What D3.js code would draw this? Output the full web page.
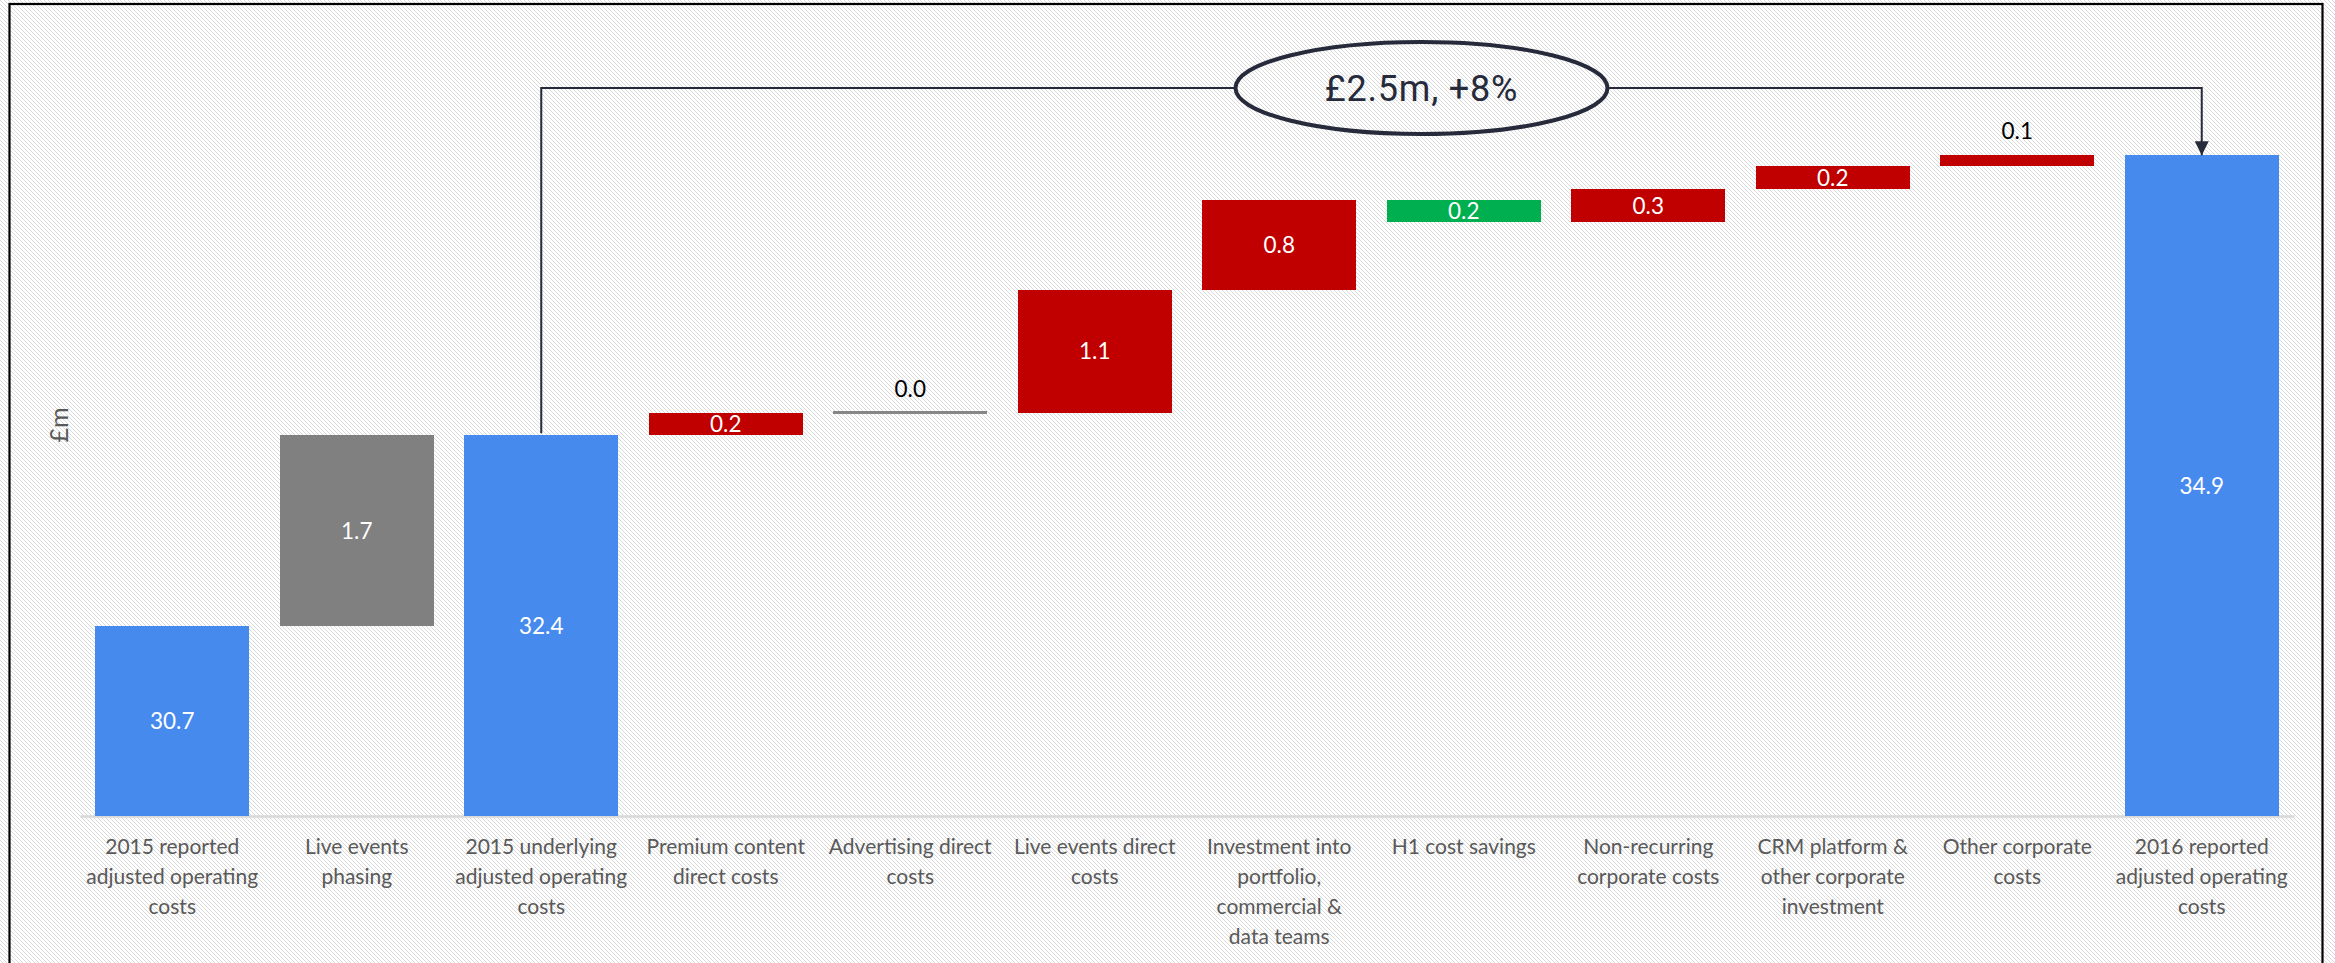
<!DOCTYPE html>
<html>
<head>
<meta charset="utf-8">
<script src="https://cdn.jsdelivr.net/npm/d3@7"></script>
<style>
  html, body { margin: 0; padding: 0; background: #fff; }
  svg { display: block; }
</style>
</head>
<body>
<svg id="chart" width="2335" height="963"></svg>
<script>
// Operating cost bridge, 2015 to 2016 (£m)
const categories = [
  "2015 reported\nadjusted operating\ncosts",
  "Live events\nphasing",
  "2015 underlying\nadjusted operating\ncosts",
  "Premium content\ndirect costs",
  "Advertising direct\ncosts",
  "Live events direct\ncosts",
  "Investment into\nportfolio,\ncommercial &\ndata teams",
  "H1 cost savings",
  "Non-recurring\ncorporate costs",
  "CRM platform &\nother corporate\ninvestment",
  "Other corporate\ncosts",
  "2016 reported\nadjusted operating\ncosts"
];
// totals are absolute levels, the rest are movements
const values = [30.7, 1.7, 32.4, 0.2, 0.0, 1.1, 0.8, -0.2, 0.3, 0.2, 0.1, 34.9];
const barTypes = ["total", "phasing", "total", "step", "step", "step", "step", "step", "step", "step", "step", "total"];
const axisMin = 29;
const axisMax = 35;
const bridgeLabel = "£2.5m, +8%";

const W = 2335, H = 963;
const svg = d3.select("#chart");

// hatched page background
const defs = svg.append("defs");
const pat = defs.append("pattern")
  .attr("id", "hatch").attr("patternUnits", "userSpaceOnUse")
  .attr("width", 4).attr("height", 4);
pat.append("rect").attr("width", 4).attr("height", 4).attr("fill", "#ffffff");
pat.append("path")
  .attr("d", "M-1,-1 L5,5 M-1,3 L1,5 M3,-1 L5,1")
  .attr("stroke", "#d9d9d9").attr("stroke-width", 1);

defs.append("marker")
  .attr("id", "arrowHead").attr("viewBox", "0 0 10 10")
  .attr("refX", 10).attr("refY", 5)
  .attr("markerWidth", 7).attr("markerHeight", 7)
  .attr("markerUnits", "strokeWidth")
  .attr("orient", "auto")
  .append("path").attr("d", "M0,0 L10,5 L0,10 z").attr("fill", "#262a3b");

svg.append("rect").attr("width", W).attr("height", H).attr("fill", "url(#hatch)");

// outer frame
svg.append("rect")
  .attr("x", 9.5).attr("y", 4).attr("width", 2313).attr("height", 1000)
  .attr("fill", "none").attr("stroke", "#000").attr("stroke-width", 2.2);

const x = d3.scaleBand()
  .domain(categories)
  .range([80, 2294])
  .paddingInner(0.166)
  .paddingOuter(0.083);

const y = d3.scaleLinear().domain([axisMin, axisMax]).range([816, 144]);

// build the waterfall segments
let running = 0;
const bars = categories.map((c, i) => {
  const v = values[i], t = barTypes[i];
  let lo, hi;
  if (t === "total") { lo = axisMin; hi = v; running = v; }
  else { lo = running; hi = running + v; running = hi; }
  let color;
  if (t === "total") color = "#468aee";
  else if (t === "phasing") color = "#808080";
  else if (v > 0) color = "#c00000";
  else if (v < 0) color = "#00b050";
  else color = "#868686";
  return { cat: c, v, t, y0: Math.min(lo, hi), y1: Math.max(lo, hi), color };
});

// x axis baseline and category labels
const xAxis = d3.axisBottom(x).tickSize(0).tickSizeOuter(0).tickFormat("");
const gx = svg.append("g").attr("transform", `translate(0,${y(axisMin)})`).call(xAxis);
gx.select(".domain").attr("stroke", "#d9d9d9").attr("stroke-width", 2.5);

const labG = svg.append("g")
  .attr("font-family", "Lato, 'Open Sans', sans-serif")
  .attr("font-size", 21).attr("fill", "#595959").attr("text-anchor", "middle");
categories.forEach(c => {
  const t = labG.append("text").attr("x", x(c) + x.bandwidth() / 2).attr("y", 854);
  c.split("\n").forEach((line, k) => {
    t.append("tspan").attr("x", x(c) + x.bandwidth() / 2).attr("dy", k === 0 ? 0 : 30).text(line);
  });
});

// bars
const barG = svg.append("g");
bars.forEach(b => {
  if (b.y1 - b.y0 < 1e-9) {
    barG.append("rect")
      .attr("x", x(b.cat)).attr("width", x.bandwidth())
      .attr("y", y(b.y1) - 1.5).attr("height", 3)
      .attr("fill", b.color).attr("shape-rendering", "crispEdges");
  } else {
    barG.append("rect")
      .attr("x", x(b.cat)).attr("width", x.bandwidth())
      .attr("y", y(b.y1)).attr("height", y(b.y0) - y(b.y1))
      .attr("fill", b.color).attr("shape-rendering", "crispEdges");
  }
});

// value labels: inside when the bar is tall enough, otherwise above
const valG = svg.append("g")
  .attr("font-family", "Lato, 'Open Sans', sans-serif")
  .attr("font-size", 22.5).attr("text-anchor", "middle");
bars.forEach(b => {
  const cx = x(b.cat) + x.bandwidth() / 2;
  const h = y(b.y0) - y(b.y1);
  const txt = Math.abs(b.v).toFixed(1);
  if (h >= 18) {
    valG.append("text").attr("x", cx).attr("y", (y(b.y0) + y(b.y1)) / 2)
      .attr("dy", "0.36em").attr("fill", "#ffffff").text(txt);
  } else {
    valG.append("text").attr("x", cx).attr("y", y(b.y1) - 24)
      .attr("dy", "0.36em").attr("fill", "#000000").text(txt);
  }
});

// bridge annotation between the underlying and reported totals
const startC = x(categories[2]) + x.bandwidth() / 2;
const endC = x(categories[11]) + x.bandwidth() / 2;
const topY = 88;
const ell = { cx: 1421.5, rx: 186, ry: 46 };
const annG = svg.append("g").attr("fill", "none").attr("stroke", "#262a3b");
annG.append("path")
  .attr("d", `M${startC},${y(values[2]) - 2} V${topY} H${ell.cx - ell.rx}`)
  .attr("stroke-width", 2);
annG.append("path")
  .attr("d", `M${ell.cx + ell.rx},${topY} H${endC} V${y(values[11])}`)
  .attr("stroke-width", 2).attr("marker-end", "url(#arrowHead)");
annG.append("ellipse")
  .attr("cx", ell.cx).attr("cy", topY).attr("rx", ell.rx).attr("ry", ell.ry)
  .attr("stroke-width", 4);
svg.append("text")
  .attr("x", ell.cx).attr("y", 101)
  .attr("text-anchor", "middle")
  .attr("font-family", "Roboto, sans-serif").attr("font-size", 36)
  .attr("letter-spacing", 0.8)
  .attr("fill", "#262a3b").text(bridgeLabel);

// axis title
svg.append("text")
  .attr("transform", "translate(68,425) rotate(-90)")
  .attr("text-anchor", "middle")
  .attr("font-family", "Lato, 'Open Sans', sans-serif").attr("font-size", 25)
  .attr("fill", "#595959").text("£m");
</script>
</body>
</html>
